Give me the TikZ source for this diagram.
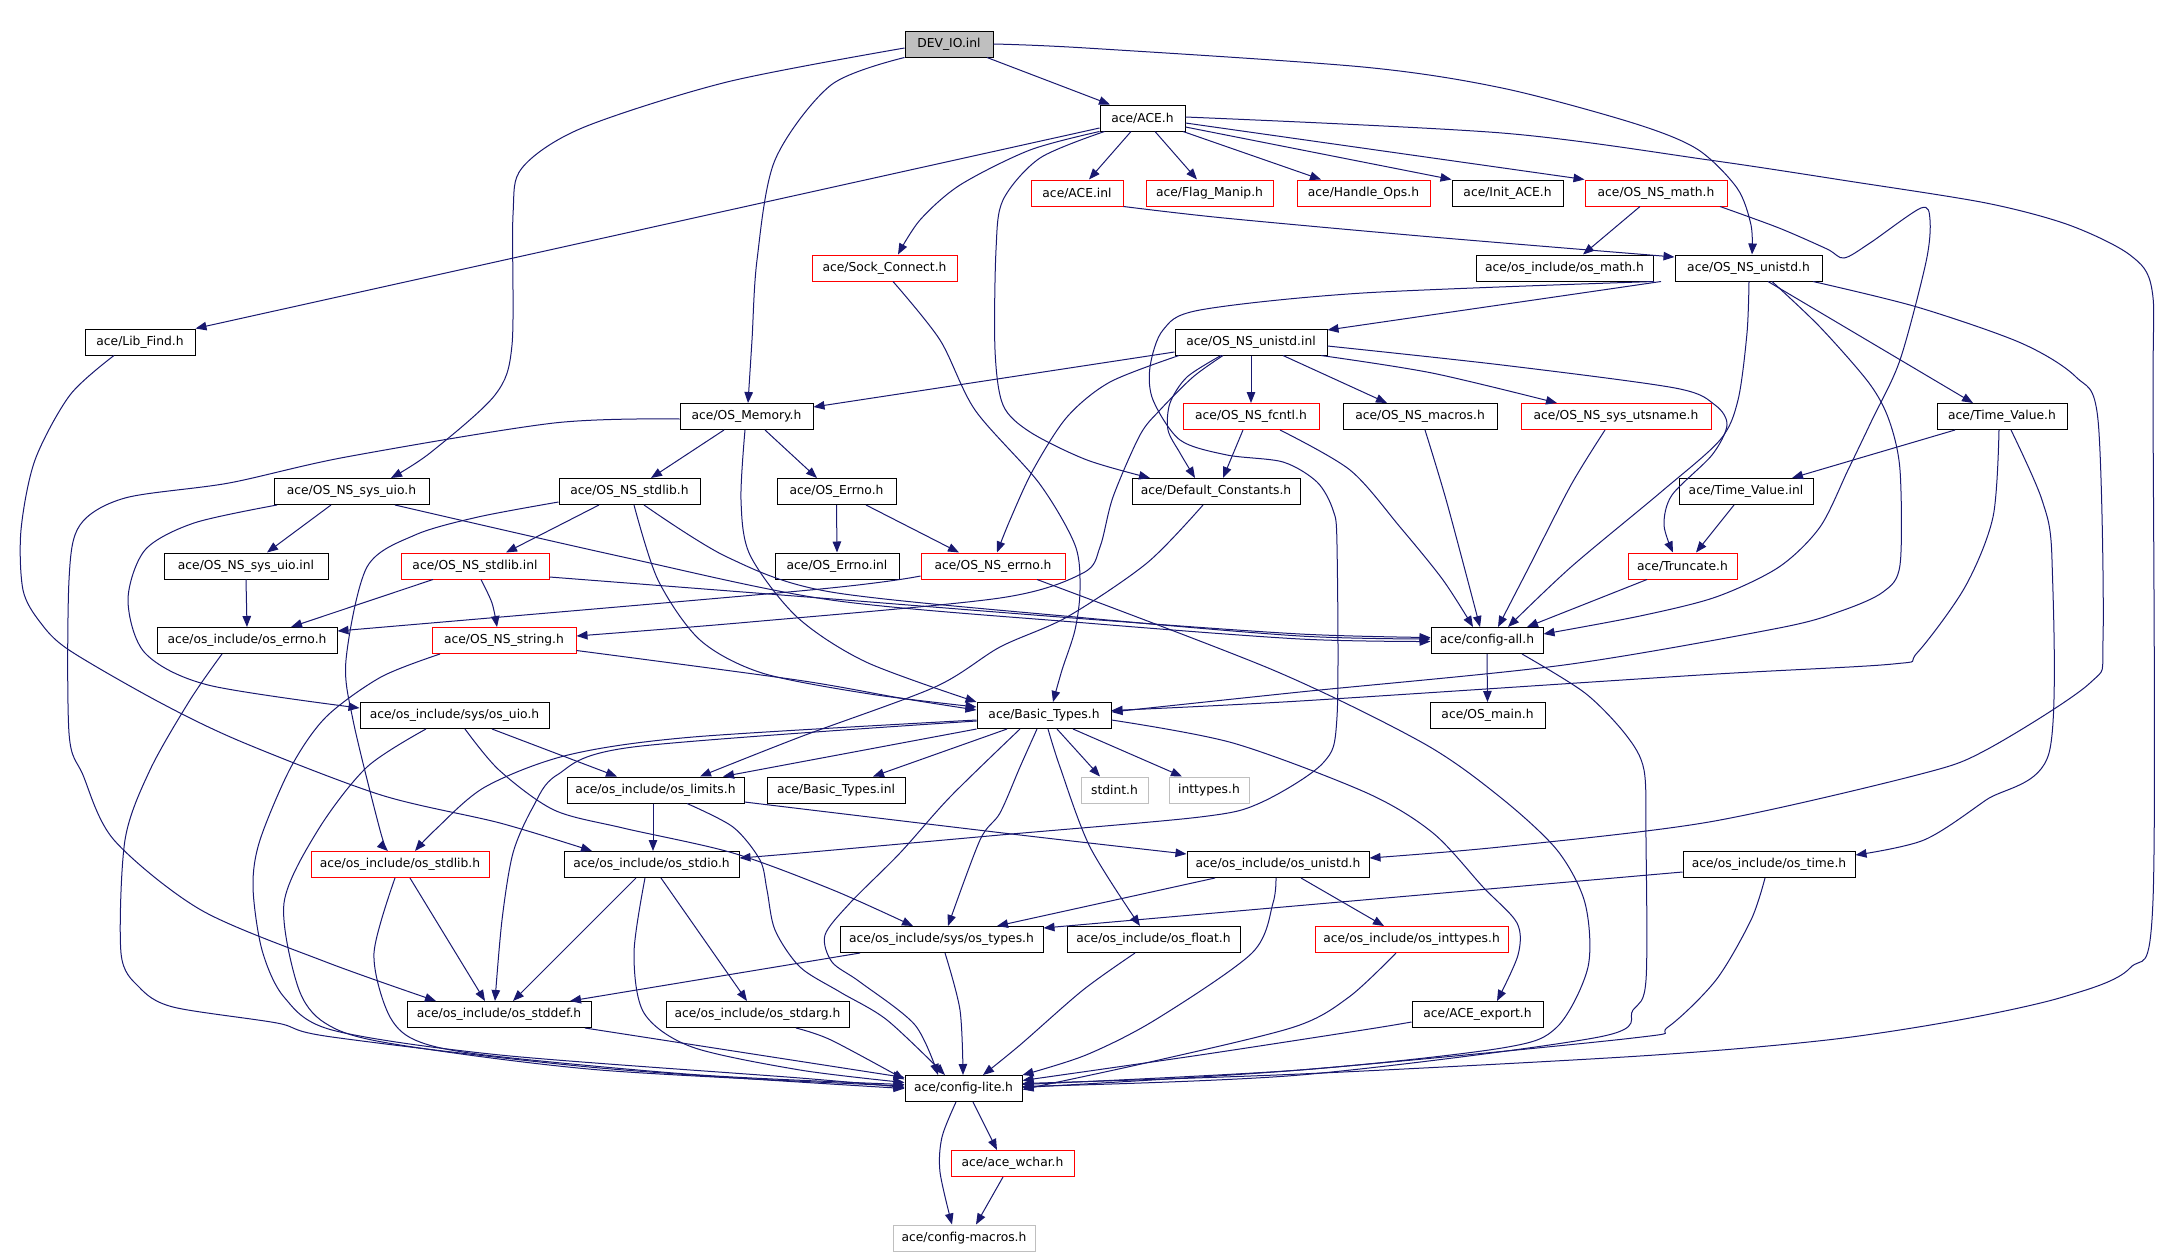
\documentclass[tikz,border=0pt]{standalone}
\usepackage{fontspec}
\setmainfont{DejaVu Sans}
\usetikzlibrary{arrows.meta}
\definecolor{edgeblue}{HTML}{191970}
\definecolor{fillgray}{HTML}{BFBFBF}
\definecolor{graybrd}{HTML}{BFBFBF}
\begin{document}
\begin{tikzpicture}[x=1pt,y=-1pt,
  nbox/.style={draw=black,line width=1pt,minimum height=26pt,inner sep=0pt,font=\fontsize{12.3pt}{14pt}\selectfont},
  rbox/.style={nbox,draw=red},
  gbox/.style={nbox,draw=graybrd},
  edg/.style={draw=edgeblue,line width=1pt,-{Triangle[length=11pt,width=8.5pt]}}]
\fill[white] (0,0) rectangle (2172,1256);
\useasboundingbox (0,0) rectangle (2172,1256);
% nodes
\node[nbox,fill=fillgray,minimum width=88pt] (devio) at (949,44) {DEV\_IO.inl};
\node[nbox,minimum width=85pt] (ace) at (1142.5,118) {ace/ACE.h};
\node[rbox,minimum width=92pt] (acei) at (1077,193) {ace/ACE.inl};
\node[rbox,minimum width=127pt] (flag) at (1209.5,193) {ace/Flag\_Manip.h};
\node[rbox,minimum width=133pt] (handle) at (1363.5,193) {ace/Handle\_Ops.h};
\node[nbox,minimum width=111pt] (initace) at (1507.5,193) {ace/Init\_ACE.h};
\node[rbox,minimum width=142pt] (nsmath) at (1656,193) {ace/OS\_NS\_math.h};
\node[nbox,minimum width=110pt] (libfind) at (140,342) {ace/Lib\_Find.h};
\node[rbox,minimum width=145pt] (sock) at (884.5,268) {ace/Sock\_Connect.h};
\node[nbox,minimum width=177pt] (osmath) at (1564.5,268) {ace/os\_include/os\_math.h};
\node[nbox,minimum width=147pt] (nsunistd) at (1748.5,268) {ace/OS\_NS\_unistd.h};
\node[nbox,minimum width=152pt] (nsunistdinl) at (1251,342) {ace/OS\_NS\_unistd.inl};
\node[nbox,minimum width=133pt] (osmem) at (746.5,416.5) {ace/OS\_Memory.h};
\node[rbox,minimum width=136pt] (fcntl) at (1251,416.5) {ace/OS\_NS\_fcntl.h};
\node[nbox,minimum width=154pt] (macros) at (1420,416.5) {ace/OS\_NS\_macros.h};
\node[rbox,minimum width=190pt] (utsname) at (1616,416.5) {ace/OS\_NS\_sys\_utsname.h};
\node[nbox,minimum width=130pt] (timevalue) at (2002,416.5) {ace/Time\_Value.h};
\node[nbox,minimum width=155pt] (sysuio) at (351.5,491.5) {ace/OS\_NS\_sys\_uio.h};
\node[nbox,minimum width=141pt] (nsstdlib) at (629.5,491.5) {ace/OS\_NS\_stdlib.h};
\node[nbox,minimum width=119pt] (oserrno) at (836.5,491.5) {ace/OS\_Errno.h};
\node[nbox,minimum width=168pt] (defconst) at (1216,491.5) {ace/Default\_Constants.h};
\node[nbox,minimum width=134pt] (tvinl) at (1746,491.5) {ace/Time\_Value.inl};
\node[nbox,minimum width=164pt] (sysuioinl) at (246,566) {ace/OS\_NS\_sys\_uio.inl};
\node[rbox,minimum width=148pt] (nsstdlibinl) at (475,566) {ace/OS\_NS\_stdlib.inl};
\node[nbox,minimum width=124pt] (errnoinl) at (837,566) {ace/OS\_Errno.inl};
\node[rbox,minimum width=144pt] (nserrno) at (993,566) {ace/OS\_NS\_errno.h};
\node[rbox,minimum width=109pt] (truncate) at (1682.5,566) {ace/Truncate.h};
\node[nbox,minimum width=180pt] (oserrnoh) at (247,640.5) {ace/os\_include/os\_errno.h};
\node[rbox,minimum width=144pt] (nsstring) at (504,640.5) {ace/OS\_NS\_string.h};
\node[nbox,minimum width=112pt] (configall) at (1487,640.5) {ace/config-all.h};
\node[nbox,minimum width=189pt] (osuio) at (454.5,715.5) {ace/os\_include/sys/os\_uio.h};
\node[nbox,minimum width=134pt] (basic) at (1044,715.5) {ace/Basic\_Types.h};
\node[nbox,minimum width=115pt] (osmain) at (1487.5,715.5) {ace/OS\_main.h};
\node[nbox,minimum width=177pt] (oslimits) at (655.5,790) {ace/os\_include/os\_limits.h};
\node[nbox,minimum width=138pt] (basicinl) at (836,790) {ace/Basic\_Types.inl};
\node[gbox,minimum width=67pt] (stdint) at (1114.5,790) {stdint.h};
\node[gbox,minimum width=80pt] (inttypes) at (1209,790) {inttypes.h};
\node[rbox,minimum width=178pt] (osstdlib) at (400,864.5) {ace/os\_include/os\_stdlib.h};
\node[nbox,minimum width=175pt] (osstdio) at (651.5,864.5) {ace/os\_include/os\_stdio.h};
\node[nbox,minimum width=182pt] (osunistd) at (1278,864.5) {ace/os\_include/os\_unistd.h};
\node[nbox,minimum width=172pt] (ostime) at (1769,864.5) {ace/os\_include/os\_time.h};
\node[nbox,minimum width=203pt] (ostypes) at (941.5,939.5) {ace/os\_include/sys/os\_types.h};
\node[nbox,minimum width=173pt] (osfloat) at (1153.5,939.5) {ace/os\_include/os\_float.h};
\node[rbox,minimum width=193pt] (osinttypes) at (1411.5,939.5) {ace/os\_include/os\_inttypes.h};
\node[nbox,minimum width=184pt] (osstddef) at (499,1014.5) {ace/os\_include/os\_stddef.h};
\node[nbox,minimum width=183pt] (osstdarg) at (757.5,1014.5) {ace/os\_include/os\_stdarg.h};
\node[nbox,minimum width=131pt] (aceexport) at (1477.5,1014.5) {ace/ACE\_export.h};
\node[nbox,minimum width=117pt] (configlite) at (963.5,1088.5) {ace/config-lite.h};
\node[rbox,minimum width=123pt] (wchar) at (1012.5,1163.5) {ace/ace\_wchar.h};
\node[gbox,minimum width=142pt] (macrosh) at (964,1238) {ace/config-macros.h};
% edges
\draw[edg] ([xshift=38pt]devio.south) -- ([xshift=-32.5pt]ace.north);
\draw[edg] plot[smooth] coordinates {(devio.south west) (831,85) (775,160) (757,260) (752,340) ([xshift=1.5pt]osmem.north)};
\draw[edg] plot[smooth] coordinates {([yshift=-4pt]devio.west) (727,82) (582,128) (522,168) (513,215) (512,345) (495,395) (430,453) ([xshift=39.5pt]sysuio.north)};
\draw[edg] plot[smooth] coordinates {(devio.east) (1086,48) (1363,67) (1502,88) (1633,123) (1697,149) (1737,188) (1751,225) ([xshift=3.5pt]nsunistd.north)};
\draw[edg] ([yshift=-10pt]ace.west) -- (libfind.north east);
\draw[edg] plot[smooth] coordinates {(ace.south west) (1030,150) (960,185) (920,220) ([xshift=13.5pt]sock.north)};
\draw[edg] plot[smooth] coordinates {([xshift=-38pt]ace.south) (1040,158) (1003,200) (996,250) (995,350) (1003,405) (1030,432) (1087,460) ([xshift=-66pt]defconst.north)};
\draw[edg] ([xshift=-11.5pt]ace.south) -- ([xshift=12pt]acei.north);
\draw[edg] ([xshift=12.5pt]ace.south) -- ([xshift=-12.5pt]flag.north);
\draw[edg] ([xshift=40.5pt]ace.south) -- ([xshift=-42.5pt]handle.north);
\draw[edg] ([yshift=-9pt]ace.east) -- (initace.north west);
\draw[edg] ([yshift=-5pt]ace.east) -- (nsmath.north west);
\draw[edg] plot[smooth] coordinates {([yshift=1pt]ace.east) (1502,133) (1709,160) (1848,181) (1986,203) (2069,225) (2130,255) (2152,290) (2153,400) (2153,900) (2130,968) (2063,997) (1959,1020) (1827,1040) (1640,1056) (1300,1074) ([yshift=5pt]configlite.east)};
\draw[edg] plot[smooth] coordinates {(acei.south east) (1224,218) (1432,237) ([yshift=11pt]nsunistd.west)};
\draw[edg] ([xshift=-16pt]nsmath.south) -- ([xshift=18.5pt]osmath.north);
\draw[edg] plot[smooth] coordinates {([xshift=64pt]nsmath.south) (1779,228) (1827,249) (1844,258) (1870,243) (1921,208) (1930,220) (1926,262) (1900,360) (1872,420) (1848,470) (1820,527) (1779,567) (1716,597) (1640,616) ([yshift=6.5pt]configall.east)};
\draw[edg] ([xshift=-87.5pt]nsunistd.south) -- ([yshift=12pt]nsunistdinl.east);
\draw[edg] plot[smooth] coordinates {([xshift=-94.5pt]nsunistd.south) (1363,293) (1200,310) (1163,330) (1150,367) (1153,400) (1180,440) (1227,455) (1283,462) (1317,482) (1333,510) (1337,545) (1337,717) (1323,763) (1260,803) (1200,817) (1000,835) (800,853) ([yshift=6.5pt]osstdio.east)};
\draw[edg] ([xshift=19.5pt]nsunistd.south) -- ([xshift=-29pt]timevalue.north);
\draw[edg] plot[smooth] coordinates {([xshift=23.5pt]nsunistd.south) (1820,327) (1869,383) (1889,420) (1900,470) (1900,565) (1883,592) (1841,611) (1779,628) (1564,665) (1300,692) ([yshift=3.5pt]basic.east)};
\draw[edg] plot[smooth] coordinates {([xshift=64.5pt]nsunistd.south) (1917,307) (2021,343) (2076,377) (2098,420) (2103,640) (2090,683) (1986,750) (1917,775) (1709,822) (1500,847) ([yshift=6.5pt]osunistd.east)};
\draw[edg] plot[smooth] coordinates {([xshift=0.5pt]nsunistd.south) (1747,333) (1738,400) (1720,440) (1661,492) (1571,567) ([xshift=21pt]configall.north)};
\draw[edg] ([yshift=-10pt]nsunistdinl.west) -- ([yshift=9.5pt]osmem.east);
\draw[edg] plot[smooth] coordinates {([xshift=-72pt]nsunistdinl.south) (1110,382) (1067,417) (1033,470) (1010,520) ([xshift=4pt]nserrno.north)};
\draw[edg] plot[smooth] coordinates {([xshift=-28pt]nsunistdinl.south) (1193,377) (1160,410) (1140,435) (1113,497) (1100,547) (1083,573) (1000,598) (750,622) ([yshift=4.5pt]nsstring.east)};
\draw[edg] plot[smooth] coordinates {([xshift=-30pt]nsunistdinl.south) (1187,377) (1170,403) (1168,430) (1180,453) ([xshift=-21pt]defconst.north)};
\draw[edg] (nsunistdinl.south) -- (fcntl.north);
\draw[edg] ([xshift=32pt]nsunistdinl.south) -- ([xshift=-33pt]macros.north);
\draw[edg] plot[smooth] coordinates {([xshift=70pt]nsunistdinl.south) (1432,373) ([xshift=-59pt]utsname.north)};
\draw[edg] plot[smooth] coordinates {([yshift=-4pt]nsunistdinl.east) (1502,365) (1675,388) (1715,405) (1727,425) (1712,455) (1672,495) (1664,525) ([xshift=-9.5pt]truncate.north)};
\draw[edg] ([xshift=-22.5pt]osmem.south) -- ([xshift=21.5pt]nsstdlib.north);
\draw[edg] ([xshift=18.5pt]osmem.south) -- ([xshift=-19.5pt]oserrno.north);
\draw[edg] plot[smooth] coordinates {([xshift=-1.5pt]osmem.south) (741,500) (750,555) (797,617) (866,662) (basic.north west)};
\draw[edg] plot[smooth] coordinates {([yshift=-2.5pt]osmem.west) (554,423) (346,457) (229,483) (125,498) (80,525) (69,580) (69,733) (83,775) (114,840) (201,910) (326,962) ([xshift=-63pt]osstddef.north)};
\draw[edg] plot[smooth] coordinates {([xshift=8.5pt]sock.south) (940,340) (975,410) (1039,483) (1075,545) (1080,590) (1075,630) (1062,670) ([xshift=9pt]basic.north)};
\draw[edg] plot[smooth] coordinates {([xshift=-26pt]libfind.south) (70,395) (35,460) (21,530) (23,590) (40,622) (69,650) (159,702) (242,742) (381,795) (500,823) ([xshift=-59.5pt]osstdio.north)};
\draw[edg] ([xshift=-20.5pt]sysuio.south) -- ([xshift=21pt]sysuioinl.north);
\draw[edg] plot[smooth] coordinates {([xshift=-74.5pt]sysuio.south) (194,523) (145,550) (128,600) (145,653) (208,685) ([yshift=7.5pt]osuio.west)};
\draw[edg] plot[smooth] coordinates {([xshift=43.5pt]sysuio.south) (623,557) (831,600) (1086,623) (1300,639) ([yshift=-1pt]configall.west)};
\draw[edg] ([xshift=-30.5pt]nsstdlib.south) -- ([xshift=31pt]nsstdlibinl.north);
\draw[edg] plot[smooth] coordinates {([xshift=4.5pt]nsstdlib.south) (658,580) (700,640) (762,673) (870,694) ([yshift=8.5pt]basic.west)};
\draw[edg] plot[smooth] coordinates {([xshift=14.5pt]nsstdlib.south) (727,557) (831,592) (1086,618) (1300,636) ([yshift=1.5pt]configall.west)};
\draw[edg] plot[smooth] coordinates {([yshift=-10.5pt]nsstdlib.west) (478,517) (415,535) (367,567) (346,660) (353,720) (380,830) ([xshift=-12pt]osstdlib.north)};
\draw[edg] (oserrno.south) -- (errnoinl.north);
\draw[edg] ([xshift=29.5pt]oserrno.south) -- ([xshift=-34pt]nserrno.north);
\draw[edg] (sysuioinl.south) -- (oserrnoh.north);
\draw[edg] ([xshift=-42pt]nsstdlibinl.south) -- ([xshift=44pt]oserrnoh.north);
\draw[edg] plot[smooth] coordinates {([xshift=6pt]nsstdlibinl.south) (492,603) ([xshift=-7pt]nsstring.north)};
\draw[edg] plot[smooth] coordinates {([yshift=-11pt]nsstdlibinl.east) (820,598) (1086,619) (1300,634) ([yshift=3pt]configall.west)};
\draw[edg] plot[smooth] coordinates {([yshift=-10pt]nserrno.west) (810,590) ([yshift=9.5pt]oserrnoh.east)};
\draw[edg] plot[smooth] coordinates {([xshift=44pt]nserrno.south) (1273,670) (1423,743) (1500,797) (1557,850) (1585,903) (1588,967) (1557,1027) (1502,1048) (1300,1070) ([yshift=4pt]configlite.east)};
\draw[edg] plot[smooth] coordinates {([yshift=-10pt]nsstring.east) (797,680) (900,698) ([yshift=5.5pt]basic.west)};
\draw[edg] plot[smooth] coordinates {([xshift=-64pt]nsstring.south) (381,677) (326,717) (291,767) (260,840) (253,887) (262,950) (284,997) (332,1030) (500,1055) (800,1078) ([yshift=1pt]configlite.west)};
\draw[edg] plot[smooth] coordinates {([xshift=-25pt]oserrnoh.south) (190,700) (150,770) (125,840) (121,953) (139,987) (173,1007) (277,1023) (332,1037) (600,1068) (configlite.west)};
\draw[edg] ([xshift=37.5pt]osuio.south) -- ([xshift=-38.5pt]oslimits.north);
\draw[edg] plot[smooth] coordinates {([xshift=10.5pt]osuio.south) (499,770) (554,810) (623,828) (733,853) (833,890) ([xshift=-28.5pt]ostypes.north)};
\draw[edg] plot[smooth] coordinates {([xshift=-28.5pt]osuio.south) (367,767) (318,830) (284,903) (298,987) (325,1023) (388,1043) (600,1070) ([yshift=2.5pt]configlite.west)};
\draw[edg] (basic.south west) -- ([xshift=67.5pt]oslimits.north);
\draw[edg] ([xshift=-37pt]basic.south) -- ([xshift=37pt]basicinl.north);
\draw[edg] plot[smooth] coordinates {([yshift=-4.5pt]basic.west) (693,737) (568,755) (485,787) (435,830) ([xshift=15pt]osstdlib.north)};
\draw[edg] plot[smooth] coordinates {([yshift=-5.5pt]basic.west) (633,747) (557,775) (533,807) (513,853) (502,920) ([xshift=-4pt]osstddef.north)};
\draw[edg] plot[smooth] coordinates {([xshift=-7pt]basic.south) (1020,767) (1000,813) (980,840) ([xshift=6.5pt]ostypes.north)};
\draw[edg] plot[smooth] coordinates {([xshift=-24pt]basic.south) (950,797) (900,853) (850,903) (825,935) (832,962) (860,982) (915,1025) ([xshift=-25.5pt]configlite.north)};
\draw[edg] plot[smooth] coordinates {([xshift=4pt]basic.south) (1060,767) (1090,847) ([xshift=-13.5pt]osfloat.north)};
\draw[edg] ([xshift=13pt]basic.south) -- ([xshift=-14.5pt]stdint.north);
\draw[edg] ([xshift=29pt]basic.south) -- ([xshift=-27pt]inttypes.north);
\draw[edg] plot[smooth] coordinates {([yshift=-4.5pt]basic.east) (1233,743) (1367,793) (1433,833) (1483,887) (1517,923) (1518,955) ([xshift=19.5pt]aceexport.north)};
\draw[edg] (configall.south) -- (osmain.north);
\draw[edg] plot[smooth] coordinates {([xshift=35pt]configall.south) (1585,693) (1626,735) (1644,770) (1646,840) (1646,980) (1633,1010) (1599,1037) (1300,1075) ([yshift=2pt]configlite.east)};
\draw[edg] ([xshift=-8pt]fcntl.south) -- ([xshift=7pt]defconst.north);
\draw[edg] plot[smooth] coordinates {([xshift=29pt]fcntl.south) (1350,470) (1400,527) (1443,580) ([xshift=-14pt]configall.north)};
\draw[edg] plot[smooth] coordinates {([xshift=5pt]macros.south) (1447,503) ([xshift=-7pt]configall.north)};
\draw[edg] plot[smooth] coordinates {([xshift=-11pt]utsname.south) (1571,485) (1529,567) ([xshift=11pt]configall.north)};
\draw[edg] ([xshift=-35.5pt]truncate.south) -- ([xshift=40pt]configall.north);
\draw[edg] plot[smooth] coordinates {([xshift=-13pt]defconst.south) (1147,563) (1067,617) (1000,647) (935,687) (800,737) ([xshift=44.5pt]oslimits.north)};
\draw[edg] ([xshift=-47pt]timevalue.south) -- ([xshift=46pt]tvinl.north);
\draw[edg] plot[smooth] coordinates {([xshift=-3pt]timevalue.south) (1993,517) (1965,587) (1917,653) (1893,664) (1700,675) (1300,701) ([yshift=5pt]basic.east)};
\draw[edg] plot[smooth] coordinates {([xshift=9pt]timevalue.south) (2042,500) (2052,560) (2049,753) (1986,800) (1924,840) ([yshift=9.5pt]ostime.east)};
\draw[edg] ([xshift=-12pt]tvinl.south) -- ([xshift=13.5pt]truncate.north);
\draw[edg] ([xshift=-2.5pt]oslimits.south) -- ([xshift=1.5pt]osstdio.north);
\draw[edg] plot[smooth] coordinates {([yshift=-12pt]oslimits.east) (1020,835) ([yshift=10.5pt]osunistd.west)};
\draw[edg] plot[smooth] coordinates {([xshift=31.5pt]oslimits.south) (733,827) (760,860) (767,890) (775,930) (800,967) (840,992) (887,1020) ([xshift=-18.5pt]configlite.north)};
\draw[edg] ([xshift=10pt]osstdlib.south) -- ([xshift=-14pt]osstddef.north);
\draw[edg] plot[smooth] coordinates {([xshift=-5pt]osstdlib.south) (374,953) (388,1013) (415,1040) (485,1055) (700,1075) ([yshift=4pt]configlite.west)};
\draw[edg] ([xshift=-15.5pt]osstdio.south) -- ([xshift=14pt]osstddef.north);
\draw[edg] ([xshift=9.5pt]osstdio.south) -- ([xshift=-10.5pt]osstdarg.north);
\draw[edg] plot[smooth] coordinates {([xshift=-6.5pt]osstdio.south) (634,953) (644,1013) (692,1047) (800,1070) ([yshift=6pt]configlite.west)};
\draw[edg] ([xshift=-63pt]osunistd.south) -- ([xshift=55.5pt]ostypes.north);
\draw[edg] ([xshift=23pt]osunistd.south) -- ([xshift=-27.5pt]osinttypes.north);
\draw[edg] plot[smooth] coordinates {([xshift=-2pt]osunistd.south) (1273,903) (1252,953) (1155,1020) (1086,1055) (configlite.north east)};
\draw[edg] ([yshift=-7.5pt]ostime.west) -- ([yshift=11.5pt]ostypes.east);
\draw[edg] plot[smooth] coordinates {([xshift=-4pt]ostime.south) (1751,920) (1716,980) (1668,1027) (1633,1038) (1300,1070) ([yshift=1pt]configlite.east)};
\draw[edg] ([xshift=-81.5pt]ostypes.south) -- ([xshift=71pt]osstddef.north);
\draw[edg] plot[smooth] coordinates {([xshift=3.5pt]ostypes.south) (960,1010) ([xshift=-0.5pt]configlite.north)};
\draw[edg] plot[smooth] coordinates {([xshift=-18.5pt]osfloat.south) (1083,990) (1020,1045) ([xshift=19.5pt]configlite.north)};
\draw[edg] plot[smooth] coordinates {([xshift=-15.5pt]osinttypes.south) (1349,997) (1294,1027) (1150,1062) ([yshift=-1pt]configlite.east)};
\draw[edg] ([xshift=86pt]osstddef.south) -- ([yshift=11pt]configlite.west);
\draw[edg] plot[smooth] coordinates {([xshift=38.5pt]osstdarg.south) (831,1040) ([yshift=9pt]configlite.west)};
\draw[edg] plot[smooth] coordinates {([yshift=-7.5pt]aceexport.west) (1363,1030) (1200,1055) ([yshift=8pt]configlite.east)};
\draw[edg] ([xshift=9.5pt]configlite.south) -- ([xshift=-15.5pt]wchar.north);
\draw[edg] plot[smooth] coordinates {([xshift=-7.5pt]configlite.south) (942,1137) (940,1172) ([xshift=-12pt]macrosh.north)};
\draw[edg] ([xshift=-9.5pt]wchar.south) -- ([xshift=12pt]macrosh.north);
\end{tikzpicture}
\end{document}
